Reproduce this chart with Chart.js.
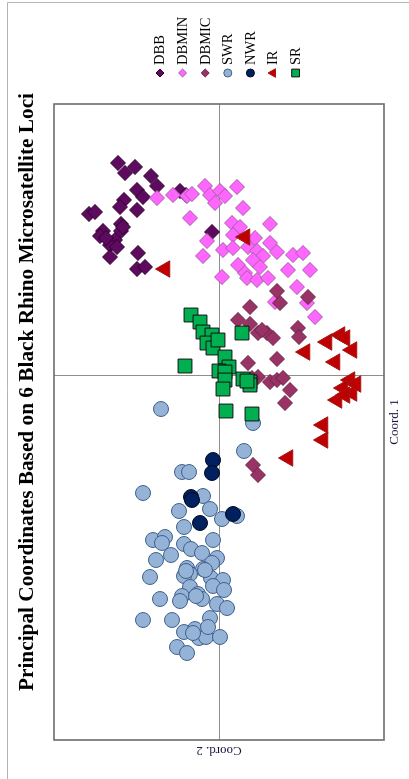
<!DOCTYPE html>
<html>
<head>
<meta charset="utf-8">
<title>Principal Coordinates Based on 6 Black Rhino Microsatellite Loci</title>
<script src="https://cdn.jsdelivr.net/npm/chart.js@4.4.1/dist/chart.umd.min.js"></script>
<style>
  html, body { margin: 0; padding: 0; background: #fff; overflow: hidden; width: 409px; height: 779px; }
  /* the landscape chart is laid on its side */
  #sheet { position: absolute; left: 0; top: 0; width: 779px; height: 409px;
           transform-origin: 0 0; transform: translate(0, 779px) rotate(-90deg); }
  canvas { display: block; }
</style>
</head>
<body>
<div id="sheet"><canvas id="pcoa" width="779" height="409"></canvas></div>
<script>
// Population labels, in legend order
const populations = ['DBB', 'DBMIN', 'DBMIC', 'SWR', 'NWR', 'IR', 'SR'];

// Coord. 1 / Coord. 2 scores per population
const DBB_c1 = [2.13, 2.03, 2.09, 2.00, 1.90, 1.86, 1.79, 1.76, 1.69, 1.66, 1.62, 1.64, 1.52, 1.45, 1.45, 1.40, 1.36, 1.31, 1.29, 1.19, 1.23, 1.07, 1.09, 1.85, 1.81, 1.44, 1.38, 1.49];
const DBB_c2 = [1.01, 0.94, 0.84, 0.68, 0.62, 0.82, 0.76, 0.95, 0.99, 0.82, 1.30, 1.24, 0.98, 1.16, 0.98, 1.19, 1.04, 1.09, 1.02, 1.09, 0.81, 0.82, 0.74, 0.39, 0.33, 0.07, 1.13, 0.96];

const DBMIN_c1 = [1.78, 1.81, 1.80, 1.82, 1.90, 1.81, 1.85, 1.73, 1.80, 1.89, 1.68, 1.58, 1.53, 1.49, 1.52, 1.35, 1.20, 1.26, 1.41, 1.28, 1.38, 1.29, 1.25, 1.33, 1.24, 1.20, 1.11, 1.16, 1.09, 1.03, 0.98, 0.96, 0.98, 0.99, 1.21, 1.23, 1.06, 1.06, 0.89, 0.73, 0.59, 0.74];
const DBMIN_c2 = [0.62, 0.46, 0.32, 0.27, 0.14, 0.09, -0.01, 0.04, -0.06, -0.18, -0.24, 0.29, -0.13, -0.21, -0.51, 0.12, 0.16, -0.04, -0.14, -0.14, -0.36, -0.29, -0.38, -0.51, -0.58, -0.44, -0.19, -0.34, -0.41, -0.26, -0.28, -0.38, -0.49, -0.03, -0.74, -0.84, -0.69, -0.91, -0.78, -0.88, -0.96, -0.56];

const DBMIC_c1 = [0.69, 0.73, 0.85, 0.79, 0.56, 0.52, 0.43, 0.43, 0.38, 0.48, 0.39, 0.13, 0.17, -0.01, -0.06, -0.04, -0.02, -0.14, -0.27, -0.89, -0.99, 0.46, -0.02];
const DBMIC_c2 = [-0.31, -0.61, -0.58, -0.89, -0.19, -0.31, -0.39, -0.48, -0.54, -0.79, -0.80, -0.29, -0.58, -0.39, -0.51, -0.58, -0.64, -0.71, -0.66, -0.34, -0.39, -0.43, -0.33];

const SWR_c1 = [-0.33, -0.47, -0.75, -0.96, -0.96, -1.17, -1.20, -1.35, -1.33, -1.43, -1.40, -1.51, -1.64, -1.61, -1.67, -1.68, -1.73, -1.64, -1.77, -1.79, -1.84, -1.82, -1.87, -1.92, -1.93, -2.01, -1.98, -2.00, -2.02, -2.04, -2.10, -2.14, -2.11, -2.18, -2.23, -2.20, -2.25, -2.23, -2.28, -2.32, -2.44, -2.44, -2.42, -2.56, -2.53, -2.62, -2.61, -2.61, -2.71, -2.77, -2.57, -2.51, -1.94, -2.20, -1.95];
const SWR_c2 = [0.58, -0.34, -0.25, 0.37, 0.30, 0.76, 0.16, 0.40, 0.09, -0.03, -0.18, 0.35, 0.66, 0.54, 0.57, 0.35, 0.28, 0.06, 0.17, 0.48, 0.63, 0.02, 0.07, 0.32, 0.16, 0.69, 0.29, 0.35, 0.08, -0.04, 0.06, -0.05, 0.29, 0.21, 0.59, 0.37, 0.39, 0.17, 0.02, -0.08, 0.76, 0.47, 0.09, 0.35, 0.24, 0.20, 0.13, -0.01, 0.42, 0.32, 0.26, 0.11, 0.14, 0.23, 0.33];

const NWR_c1 = [-0.84, -0.97, -1.21, -1.24, -1.47, -1.38];
const NWR_c2 = [0.06, 0.07, 0.28, 0.27, 0.19, -0.14];

const IR_c1 = [0.41, 0.38, 0.34, 0.26, 0.24, 0.14, -0.04, -0.12, -0.17, -0.24, -0.19, -0.49, -0.64, -0.82, 1.39, 1.07, -0.08];
const IR_c2 = [-1.21, -1.26, -1.08, -1.33, -0.86, -1.16, -1.31, -1.24, -1.33, -1.18, -1.26, -1.04, -1.04, -0.69, -0.26, 0.54, -1.37];

const SR_c1 = [0.61, 0.54, 0.44, 0.41, 0.33, 0.28, 0.19, 0.09, 0.43, 0.10, 0.05, 0.04, -0.04, -0.13, -0.03, -0.06, -0.09, -0.35, -0.38, -0.05, 0.36];
const SR_c2 = [0.28, 0.19, 0.16, 0.07, 0.12, 0.06, -0.06, -0.10, -0.23, 0.34, 0.00, -0.06, -0.06, -0.04, -0.24, -0.31, -0.31, -0.07, -0.33, -0.28, 0.01];

// Axis extents
const coord1Range = [-3.64, 2.72];
const coord2Range = [-1.65, 1.65];

const scores = [
  [DBB_c1, DBB_c2], [DBMIN_c1, DBMIN_c2], [DBMIC_c1, DBMIC_c2],
  [SWR_c1, SWR_c2], [NWR_c1, NWR_c2], [IR_c1, IR_c2], [SR_c1, SR_c2]
];

// marker look per population
const looks = [
  { style: 'rectRot',  fill: '#5e0a5e', line: '#2e002e', r: 7.5, lr: 4 },
  { style: 'rectRot',  fill: '#ff66ff', line: '#a85aa8', r: 7.5, lr: 4 },
  { style: 'rectRot',  fill: '#993366', line: '#6a2346', r: 7.5, lr: 4 },
  { style: 'circle',   fill: '#95b3d7', line: '#41618c', r: 7.5, lr: 4 },
  { style: 'circle',   fill: '#002060', line: '#000a1e', r: 7.5, lr: 4 },
  { style: 'triangle', fill: '#c00000', line: '#a01818', r: 9.5, lr: 5 },
  { style: 'rect',     fill: '#00b050', line: '#101010', r: 9.8, lr: 5.5 }
];

const datasets = populations.map((name, i) => ({
  label: name,
  data: scores[i][0].map((v, k) => ({ x: v, y: scores[i][1][k] })),
  pointStyle: looks[i].style,
  pointRadius: looks[i].r,
  pointBackgroundColor: looks[i].fill,
  pointBorderColor: looks[i].line,
  pointBorderWidth: 1,
  order: populations.length - i   // later populations sit on top
}));

const TITLE = 'Principal Coordinates Based on 6 Black Rhino Microsatellite Loci';

function marker(ctx, style, x, y, r, fill, line) {
  ctx.save();
  ctx.fillStyle = fill; ctx.strokeStyle = line; ctx.lineWidth = 1;
  ctx.beginPath();
  if (style === 'circle') {
    ctx.arc(x, y, r, 0, Math.PI * 2);
  } else if (style === 'rectRot') {
    ctx.moveTo(x, y - r); ctx.lineTo(x + r, y); ctx.lineTo(x, y + r); ctx.lineTo(x - r, y); ctx.closePath();
  } else if (style === 'triangle') {
    for (let k = 0; k < 3; k++) {
      const a = k * 2 * Math.PI / 3;
      const px = x + Math.sin(a) * r, py = y - Math.cos(a) * r;
      k ? ctx.lineTo(px, py) : ctx.moveTo(px, py);
    }
    ctx.closePath();
  } else {
    const h = r * Math.SQRT1_2;
    ctx.rect(x - h, y - h, 2 * h, 2 * h);
  }
  ctx.fill(); ctx.stroke();
  ctx.restore();
}

const decor = {
  id: 'decor',
  beforeDatasetsDraw(chart) {
    const { ctx, chartArea: a, scales } = chart;
    const x0 = Math.round(scales.x.getPixelForValue(0)) + 0.5;
    const y0 = Math.round(scales.y.getPixelForValue(0)) + 0.5;
    ctx.save();
    ctx.strokeStyle = '#8e8e8e';
    ctx.lineWidth = 1;
    ctx.beginPath();
    ctx.moveTo(x0, a.top); ctx.lineTo(x0, a.bottom);
    ctx.moveTo(a.left, y0); ctx.lineTo(a.right, y0);
    ctx.stroke();
    ctx.strokeStyle = '#6c6c6c';
    ctx.lineWidth = 1.6;
    ctx.strokeRect(a.left, a.top, a.right - a.left, a.bottom - a.top);
    ctx.restore();
  },
  afterDraw(chart) {
    const { ctx, chartArea: a } = chart;
    ctx.save();

    // outer frame
    ctx.strokeStyle = '#b4b4b4';
    ctx.lineWidth = 1;
    ctx.beginPath();
    ctx.moveTo(0, 7.5); ctx.lineTo(776.5, 7.5); ctx.lineTo(776.5, 409);
    ctx.stroke();

    // title
    ctx.fillStyle = '#000';
    ctx.font = 'bold 21px "Liberation Serif", "Times New Roman", serif';
    ctx.textAlign = 'center';
    ctx.textBaseline = 'middle';
    const want = 598, got = ctx.measureText(TITLE).width;
    ctx.save();
    ctx.translate(387, 28);
    ctx.scale(want / got, 1);
    ctx.fillText(TITLE, 0, 0);
    ctx.restore();

    // axis titles
    ctx.fillStyle = '#14143a';
    ctx.font = '13px "Liberation Serif", "Times New Roman", serif';
    ctx.fillText('Coord. 1', (a.left + a.right) / 2, a.bottom + 11);
    ctx.save();
    ctx.translate(a.left - 10, (a.top + a.bottom) / 2);
    ctx.rotate(-Math.PI / 2);
    ctx.fillText('Coord. 2', 0, 0);
    ctx.restore();

    // legend
    ctx.textAlign = 'left';
    ctx.fillStyle = '#000';
    ctx.font = '14.5px "Liberation Serif", "Times New Roman", serif';
    chart.data.datasets.forEach((ds, i) => {
      const yy = 160 + 22.6 * i;
      marker(ctx, looks[i].style, 706, yy, looks[i].lr, looks[i].fill, looks[i].line);
      ctx.fillText(ds.label, 714, yy + 0.5);
    });
    ctx.restore();
  }
};

new Chart(document.getElementById('pcoa'), {
  type: 'scatter',
  data: { datasets },
  options: {
    responsive: false,
    animation: false,
    events: [],
    layout: { padding: { left: 39, right: 104, top: 54, bottom: 25 } },
    plugins: { legend: { display: false }, title: { display: false }, tooltip: { enabled: false } },
    scales: {
      x: { type: 'linear', display: false, min: coord1Range[0], max: coord1Range[1] },
      y: { type: 'linear', display: false, min: coord2Range[0], max: coord2Range[1] }
    }
  },
  plugins: [decor]
});
</script>
</body>
</html>
